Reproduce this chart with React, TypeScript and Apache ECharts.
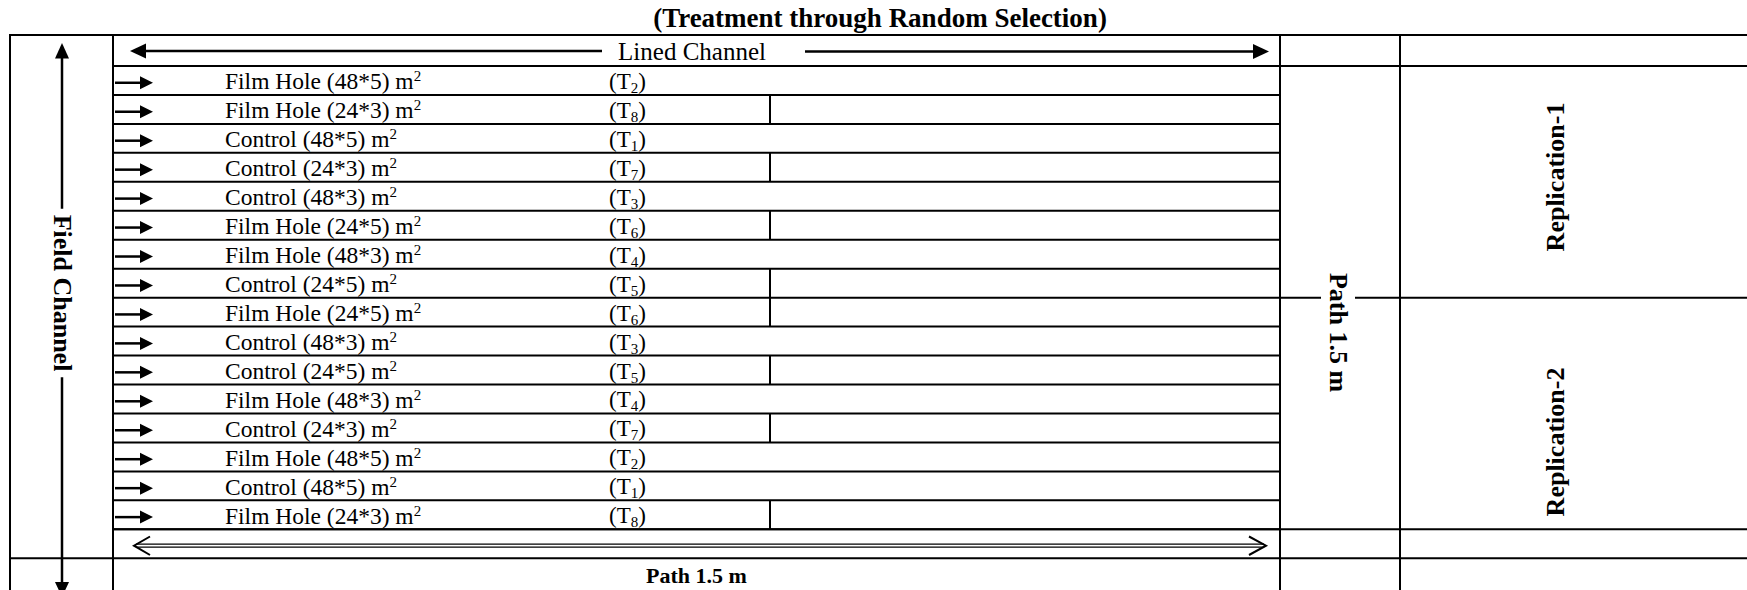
import React, { useEffect, useRef } from 'react';
import * as echarts from 'echarts';

// ---- data ----
const chartTitle = '(Treatment through Random Selection)';
const plotTypes = ['Film Hole', 'Film Hole', 'Control', 'Control', 'Control', 'Film Hole', 'Film Hole', 'Control', 'Film Hole', 'Control', 'Control', 'Film Hole', 'Control', 'Film Hole', 'Control', 'Film Hole'];
const plotLengths = [48, 24, 48, 24, 48, 24, 48, 24, 24, 48, 24, 48, 24, 48, 48, 24];
const plotWidths = [5, 3, 5, 3, 3, 5, 3, 5, 5, 3, 5, 3, 3, 5, 5, 3];
const treatments = [2, 8, 1, 7, 3, 6, 4, 5, 6, 3, 5, 4, 7, 2, 1, 8];
const replications = ['Replication-1', 'Replication-2'];
const rowsPerReplication = 8;
const linedChannelLabel = 'Lined Channel';
const fieldChannelLabel = 'Field Channel';
const pathLabel = 'Path 1.5 m';

// ---- layout (styles / positions) ----
const FONT = "'Liberation Serif', 'Times New Roman', serif";
const L0 = 10;
const L1 = 113;
const SPLIT = 770;
const R0 = 1280;
const R1 = 1400;
const RE = 1760;
const TOP = 35;
const ROW0 = 66;
const ROWS_BOTTOM = 529.3;
const ARROW_BOTTOM = 558.3;
const BLACK = '#000';

const ln = (x1: number, y1: number, x2: number, y2: number, w = 2, z = 1) => ({
  type: 'line',
  z,
  shape: { x1, y1, x2, y2 },
  style: { stroke: BLACK, lineWidth: w },
});

export default function App() {
  const ref = useRef<HTMLDivElement>(null);

  useEffect(() => {
    if (!ref.current) return;
    const chart = echarts.init(ref.current, undefined, { renderer: 'svg' });
    const rowH = (ROWS_BOTTOM - ROW0) / plotTypes.length;
    const repSplit = ROW0 + rowsPerReplication * rowH;
    const repCenters = [177, 442];

    const graphics: any[] = [
      ln(L0, TOP, RE, TOP),
      ln(L1, ROW0, RE, ROW0),
      ln(L1, ROWS_BOTTOM, RE, ROWS_BOTTOM),
      ln(L0, ARROW_BOTTOM, RE, ARROW_BOTTOM),
      ln(R0, repSplit, RE, repSplit),
      ln(L0, TOP - 1, L0, 600),
      ln(L1, TOP - 1, L1, 600),
      ln(R0, TOP - 1, R0, 600),
      ln(R1, TOP - 1, R1, 600),
      // Lined channel arrows
      ln(142, 51, 602, 51, 2.5),
      { type: 'polygon', shape: { points: [[130, 51], [146, 43.5], [146, 58.5]] }, style: { fill: BLACK } },
      ln(805, 51.5, 1256, 51.5, 2.5),
      { type: 'polygon', shape: { points: [[1269, 51.5], [1253, 44], [1253, 59]] }, style: { fill: BLACK } },
      // Field channel arrow
      ln(62, 56, 62, 584, 2.5),
      { type: 'polygon', shape: { points: [[62, 43], [55, 58.5], [69, 58.5]] }, style: { fill: BLACK } },
      { type: 'polygon', shape: { points: [[62, 597], [55, 582], [69, 582]] }, style: { fill: BLACK } },
      // bottom double arrow
      ln(136, 544.2, 1264, 544.2, 1.3),
      ln(136, 547.2, 1264, 547.2, 1.3),
      { type: 'polyline', shape: { points: [[150, 536.5], [134, 545.7], [150, 555]] }, style: { stroke: BLACK, lineWidth: 2, fill: null } },
      { type: 'polyline', shape: { points: [[1249, 536.5], [1266, 545.7], [1249, 555]] }, style: { stroke: BLACK, lineWidth: 2, fill: null } },
      // texts
      {
        type: 'text', x: 880, y: 17.5, z: 100,
        style: { text: chartTitle, fontSize: 27, fontWeight: 'bold', fontFamily: FONT, fill: BLACK, align: 'center', verticalAlign: 'middle' },
      },
      {
        type: 'text', x: 692, y: 51, z: 100,
        style: { text: linedChannelLabel, fontSize: 25, fontFamily: FONT, fill: BLACK, align: 'center', verticalAlign: 'middle' },
      },
      {
        type: 'text', x: 62, y: 293, z: 100, rotation: -Math.PI / 2,
        style: { text: fieldChannelLabel, fontSize: 26, fontWeight: 'bold', fontFamily: FONT, fill: BLACK, align: 'center', verticalAlign: 'middle', backgroundColor: '#fff', padding: [2, 6, 2, 6] },
      },
      {
        type: 'text', x: 1338, y: 332.5, z: 100, rotation: -Math.PI / 2,
        style: { text: pathLabel, fontSize: 26, fontWeight: 'bold', fontFamily: FONT, fill: BLACK, align: 'center', verticalAlign: 'middle', backgroundColor: '#fff', padding: [4, 2, 4, 2] },
      },
      {
        type: 'text', x: 696.5, y: 575, z: 100,
        style: { text: pathLabel, fontSize: 22, fontWeight: 'bold', fontFamily: FONT, fill: BLACK, align: 'center', verticalAlign: 'middle' },
      },
      ...replications.map((r, k) => ({
        type: 'text', x: 1555, y: repCenters[k], z: 100, rotation: Math.PI / 2,
        style: { text: r, fontSize: 26, fontWeight: 'bold', fontFamily: FONT, fill: BLACK, align: 'center', verticalAlign: 'middle' },
      })),
    ];

    const labelRich = {
      a: { fontSize: 23.5, fontFamily: FONT, fill: BLACK, lineHeight: 25 },
      s: { fontSize: 15, fontFamily: FONT, fill: BLACK, lineHeight: 15, verticalAlign: 'top' },
    };
    const tRich = {
      a: { fontSize: 23, fontFamily: FONT, fill: BLACK, lineHeight: 28 },
      b: { fontSize: 15, fontFamily: FONT, fill: BLACK, lineHeight: 15, verticalAlign: 'bottom' },
    };

    chart.setOption({
      animation: false,
      backgroundColor: '#fff',
      grid: { left: L1, top: ROW0, width: R0 - L1, height: ROWS_BOTTOM - ROW0 },
      xAxis: { type: 'value', min: 0, max: 48, show: false },
      yAxis: {
        type: 'category',
        inverse: true,
        show: false,
        data: plotTypes.map((p, i) => `${p} T${treatments[i]} #${i + 1}`),
      },
      graphic: { elements: graphics },
      series: [
        {
          type: 'custom',
          coordinateSystem: 'cartesian2d',
          silent: true,
          data: plotLengths.map((len, i) => [len, i]),
          encode: { x: 0, y: 1 },
          renderItem: (params: any, api: any) => {
            const i = params.dataIndex;
            const c = api.coord([0, api.value(1)]);
            const h = api.size([0, 1])[1];
            const cs = params.coordSys;
            const yc = c[1];
            const top = yc - h / 2;
            const bot = yc + h / 2;
            const ay = yc + 2.3;
            const children: any[] = [
              { type: 'line', shape: { x1: cs.x, y1: bot, x2: cs.x + cs.width, y2: bot }, style: { stroke: BLACK, lineWidth: 2 } },
              { type: 'line', shape: { x1: cs.x + 2, y1: ay, x2: cs.x + 29, y2: ay }, style: { stroke: BLACK, lineWidth: 2.5 } },
              { type: 'polygon', shape: { points: [[cs.x + 40, ay], [cs.x + 27, ay - 6.5], [cs.x + 27, ay + 6.5]] }, style: { fill: BLACK } },
              {
                type: 'text', x: cs.x + 112, y: yc + 1,
                style: {
                  text: `{a|${plotTypes[i]} (${plotLengths[i]}*${plotWidths[i]}) m}{s|2}`,
                  rich: labelRich, fill: BLACK, fontSize: 23.5, fontFamily: FONT,
                  align: 'left', verticalAlign: 'middle',
                },
              },
              {
                type: 'text', x: cs.x + 496, y: yc + 1,
                style: {
                  text: `{a|(T}{b|${treatments[i]}}{a|)}`,
                  rich: tRich, fill: BLACK, fontSize: 23, fontFamily: FONT,
                  align: 'left', verticalAlign: 'middle',
                },
              },
            ];
            if (plotLengths[i] < 48) {
              children.push({ type: 'line', shape: { x1: SPLIT, y1: top, x2: SPLIT, y2: bot }, style: { stroke: BLACK, lineWidth: 2 } });
            }
            return { type: 'group', children };
          },
        },
      ],
    });
    return () => chart.dispose();
  }, []);

  return (
    <div
      ref={ref}
      style={{ position: 'fixed', left: 0, top: 0, width: 1747, height: 590, background: '#fff' }}
    />
  );
}
